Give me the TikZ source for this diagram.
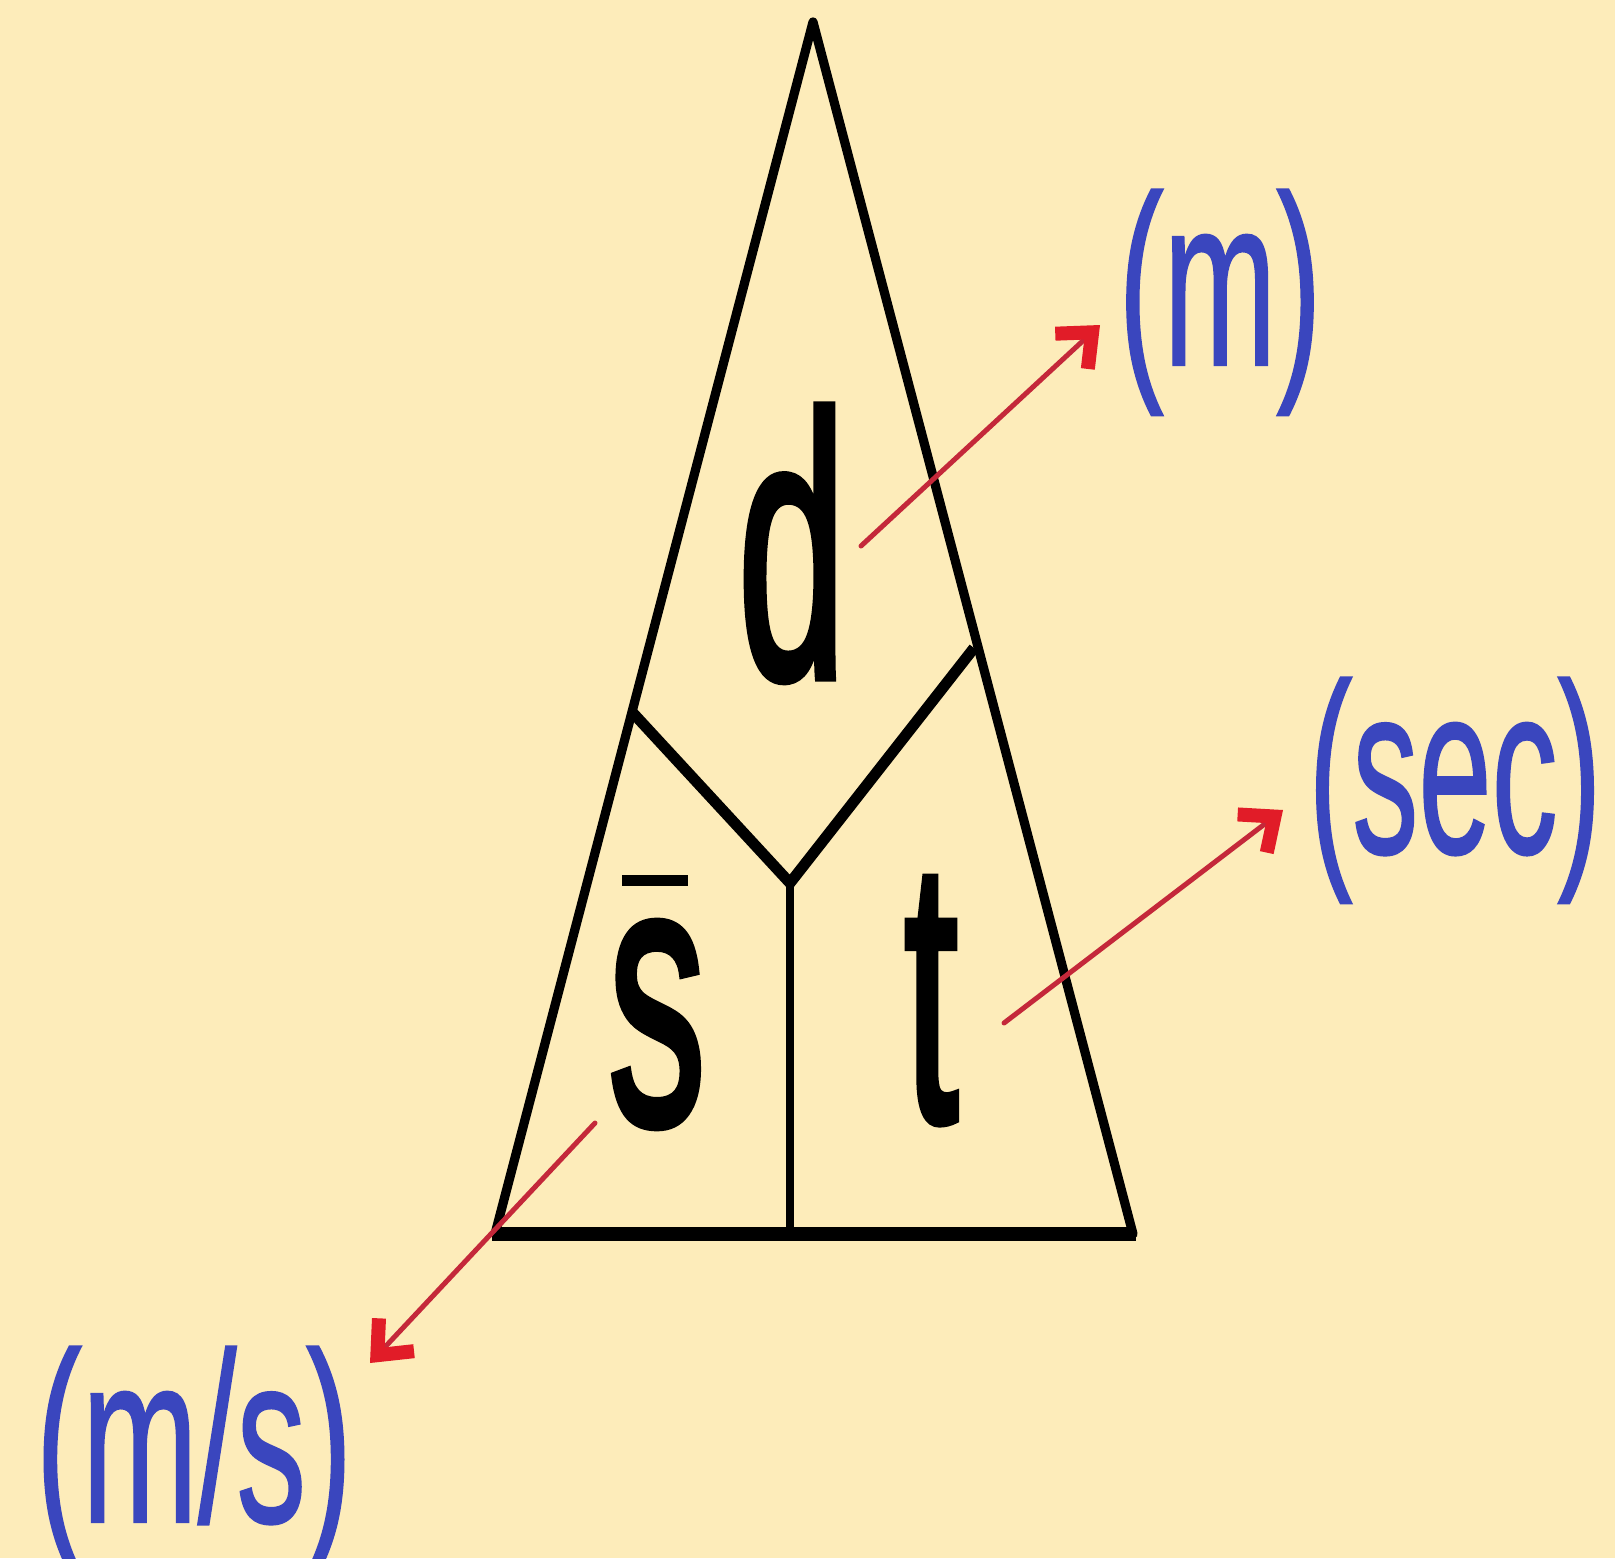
\documentclass[tikz,border=0pt]{standalone}
\usepackage{fontspec}
\setmainfont{Liberation Sans}
\newfontfamily\letterfont[FakeBold=2.5]{Liberation Sans}
\newfontfamily\unitfont[FakeBold=1]{Liberation Sans}
\usetikzlibrary{arrows.meta}
\definecolor{bg}{RGB}{253,236,186}
\definecolor{unitblue}{RGB}{58,70,190}
\definecolor{arrowred}{RGB}{196,40,58}
\definecolor{tipred}{RGB}{225,28,40}
\tikzset{
  letter/.style={anchor=base, inner sep=0pt, text=black, font=\letterfont\fontsize{187}{200}\selectfont},
  unit/.style={anchor=base, inner sep=0pt, text=unitblue, font=\unitfont\fontsize{121}{130}\selectfont},
  sideline/.style={line width=4.6pt, line join=round, line cap=round},
  baseline/.style={line width=7pt, line cap=butt},
  divider/.style={line width=5.5pt, line join=miter},
  stemline/.style={line width=4.2pt},
  unitarrow/.style={arrowred, line width=2.5pt, line cap=round,
    -{Straight Barb[length=14pt, width=24pt, line width=7pt, color=tipred]}},
}
\begin{document}
\begin{tikzpicture}[x=0.5pt, y=-0.5pt]
\path[fill=bg, use as bounding box] (0,0) rectangle (1615,1558);
% triangle corners
\coordinate (apex) at (813,22);
\coordinate (bl) at (495,1234);
\coordinate (br) at (1133,1234);
\coordinate (lp) at (633,713);
\coordinate (rp) at (974,648);
\coordinate (jn) at (790,883);
\coordinate (bm) at (790,1234);
\draw[sideline] (bl) -- (apex) -- (br);
\draw[baseline] ([xshift=-1.5pt]bl) -- ([xshift=1.5pt]br);
\draw[divider] (lp) -- (jn) -- (rp);
\draw[stemline] (jn) -- (bm);
% letters
\node[letter] (d) at (792,677) {\scalebox{0.52}[1]{d}};
\node[letter] (s) at (657,1123) {\scalebox{0.52}[1]{s}};
\node[letter] (t) at (931,1120) {\scalebox{0.52}[1]{t}};
\coordinate (barl) at (622,880);
\coordinate (barr) at (688,880);
\draw[line width=5.5pt] (barl) -- (barr);
% units
\node[unit] (um) at (1220,365) {\scalebox{0.56}[1]{(m)}};
\node[unit] (usec) at (1455,853) {\scalebox{0.545}[1]{(sec)}};
\node[unit] (ums) at (194,1522) {\scalebox{0.575}[1]{(m/s)}};
% arrow ends
\coordinate (a1s) at (861,546);
\coordinate (a1e) at (1100,325);
\coordinate (a2s) at (1004,1023);
\coordinate (a2e) at (1283,810);
\coordinate (a3s) at (595,1123);
\coordinate (a3e) at (370,1363);
\draw[unitarrow] (a1s) -- (a1e);
\draw[unitarrow] (a2s) -- (a2e);
\draw[unitarrow] (a3s) -- (a3e);
\end{tikzpicture}
\end{document}
